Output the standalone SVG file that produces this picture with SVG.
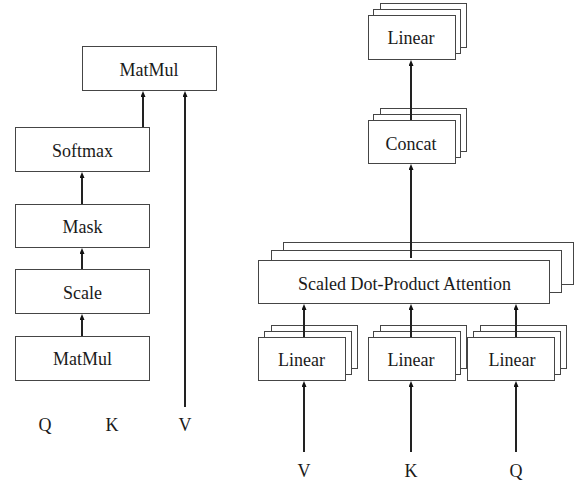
<svg xmlns="http://www.w3.org/2000/svg" width="577" height="482" viewBox="0 0 577 482">
  <style>
    .box { fill: #ffffff; stroke: #454545; stroke-width: 1; }
    text { font-family: 'Liberation Serif', 'Times New Roman', serif; font-size: 18px; fill: #1a1a1a; text-anchor: middle; }
    .arrow { fill: none; stroke: #222222; stroke-width: 2; marker-end: url(#head); }
  </style>
  <defs>
    <!-- upward arrowhead; tip sits 4px beyond the end of the path -->
    <marker id="head" viewBox="0 0 6 5" markerWidth="6" markerHeight="5" refX="2" refY="2.5" orient="auto" markerUnits="userSpaceOnUse">
      <path d="M0,0 L6,2.5 L0,5 z" fill="#111111"/>
    </marker>
  </defs>
  <rect width="577" height="482" fill="#ffffff"/>

  <!-- Scaled dot-product attention -->
  <g id="sdp-matmul-top">
    <rect class="box" x="82.5" y="46.5" width="134" height="44"/>
    <text x="149" y="76">MatMul</text>
  </g>
  <g id="sdp-softmax">
    <rect class="box" x="15.5" y="127.5" width="134" height="44"/>
    <text x="82.5" y="157">Softmax</text>
  </g>
  <g id="sdp-mask">
    <rect class="box" x="15.5" y="204.5" width="134" height="43"/>
    <text x="82.5" y="233">Mask</text>
  </g>
  <g id="sdp-scale">
    <rect class="box" x="15.5" y="269.5" width="134" height="44"/>
    <text x="82.5" y="299">Scale</text>
  </g>
  <g id="sdp-matmul-bottom">
    <rect class="box" x="15.5" y="336.5" width="134" height="44"/>
    <text x="82.5" y="365">MatMul</text>
  </g>
  <g id="sdp-inputs">
    <text x="45" y="431">Q</text>
    <text x="112" y="431">K</text>
    <text x="185" y="431">V</text>
  </g>

  <!-- Multi-head attention -->
  <g id="mha-linear-out">
    <rect class="box" x="380.5" y="3.5" width="86" height="44"/>
    <rect class="box" x="373.5" y="9.5" width="87" height="44"/>
    <rect class="box" x="368.5" y="15.5" width="87" height="44"/>
    <text x="411" y="44">Linear</text>
  </g>
  <g id="mha-concat">
    <rect class="box" x="380.5" y="108.5" width="86" height="43"/>
    <rect class="box" x="373.5" y="114.5" width="87" height="43"/>
    <rect class="box" x="368.5" y="120.5" width="87" height="43"/>
    <text x="411" y="150">Concat</text>
  </g>
  <g id="mha-attention">
    <rect class="box" x="283.5" y="242.5" width="290" height="42"/>
    <rect class="box" x="271.5" y="250.5" width="290" height="42"/>
    <rect class="box" x="258.5" y="260.5" width="291" height="43"/>
    <text x="404.5" y="290">Scaled Dot-Product Attention</text>
  </g>
  <g id="mha-linear-v">
    <rect class="box" x="271.5" y="325.5" width="86" height="43"/>
    <rect class="box" x="264.5" y="331.5" width="87" height="43"/>
    <rect class="box" x="258.5" y="337.5" width="87" height="43"/>
    <text x="301.5" y="366">Linear</text>
  </g>
  <g id="mha-linear-k">
    <rect class="box" x="380.5" y="325.5" width="86" height="43"/>
    <rect class="box" x="373.5" y="331.5" width="87" height="43"/>
    <rect class="box" x="368.5" y="337.5" width="87" height="43"/>
    <text x="411" y="366">Linear</text>
  </g>
  <g id="mha-linear-q">
    <rect class="box" x="480.5" y="325.5" width="86" height="43"/>
    <rect class="box" x="473.5" y="331.5" width="87" height="43"/>
    <rect class="box" x="467.5" y="337.5" width="87" height="43"/>
    <text x="512" y="366">Linear</text>
  </g>
  <g id="mha-inputs">
    <text x="304" y="477">V</text>
    <text x="411" y="477">K</text>
    <text x="516" y="477">Q</text>
  </g>

  <!-- Connectors -->
  <g id="connectors">
    <path class="arrow" d="M143,127 V95"/>
    <path class="arrow" d="M185,407 V95"/>
    <path class="arrow" d="M82,204 V176"/>
    <path class="arrow" d="M82,269 V252"/>
    <path class="arrow" d="M82,336 V318"/>

    <path class="arrow" d="M411,120 V64"/>
    <path class="arrow" d="M411,258 V168"/>
    <path class="arrow" d="M304,337 V308"/>
    <path class="arrow" d="M411,337 V308"/>
    <path class="arrow" d="M516,337 V308"/>
    <path class="arrow" d="M304,452 V385"/>
    <path class="arrow" d="M411,452 V385"/>
    <path class="arrow" d="M516,452 V385"/>
  </g>
</svg>
